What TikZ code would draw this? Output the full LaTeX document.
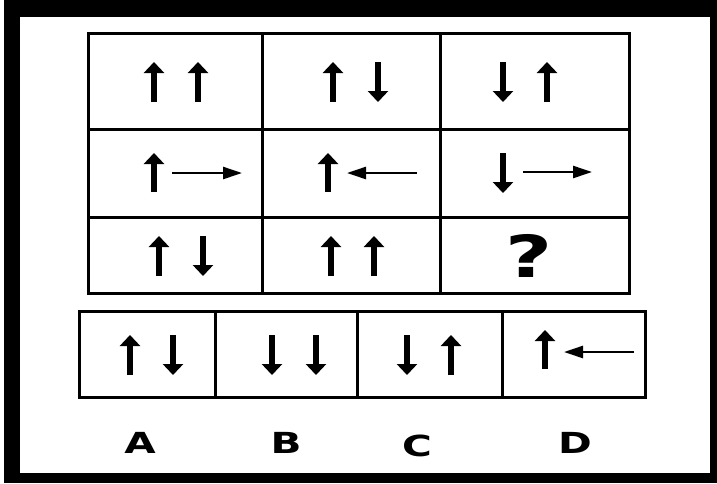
\documentclass[tikz,border=0pt]{standalone}
\usepackage{fontspec}
\setmainfont{DejaVu Sans}
\usetikzlibrary{arrows.meta}

\begin{document}
\begin{tikzpicture}[x=1pt, y=-1pt, line cap=butt, line join=miter,
    gridline/.style={line width=3pt},
    uparrow/.style={line width=5.5pt, -{Triangle[width=20pt, length=11pt]}},
    sidearrow/.style={line width=2.5pt, -{Triangle[width=12pt, length=19pt]}},
    optlabel/.style={font=\bfseries\fontsize{29}{29}\selectfont, xscale=1.4, transform shape}]

    \useasboundingbox (0,0) rectangle (717,483);

    % Marco negro exterior
    \fill[black] (4,0) rectangle (717,483);
    \fill[white] (20,17) rectangle (710,473);

    % Cuadrícula 3x3
    \draw[gridline] (88,33) rectangle (629,293);
    \draw[gridline] (262,33) -- (262,293);
    \draw[gridline] (440,33) -- (440,293);
    \draw[gridline] (88,129) -- (629,129);
    \draw[gridline] (88,217) -- (629,217);

    % Fila 1
    \draw[uparrow] (154,102) -- (154,62);
    \draw[uparrow] (198,102) -- (198,62);
    \draw[uparrow] (333,102) -- (333,62);
    \draw[uparrow] (378,62) -- (378,102);
    \draw[uparrow] (503,62) -- (503,102);
    \draw[uparrow] (547,102) -- (547,62);

    % Fila 2
    \draw[uparrow] (154,192) -- (154,153);
    \draw[sidearrow] (172,173) -- (242,173);
    \draw[uparrow] (328,192) -- (328,153);
    \draw[sidearrow] (417,173) -- (347,173);
    \draw[uparrow] (503,153) -- (503,193);
    \draw[sidearrow] (523,172) -- (592,172);

    % Fila 3
    \draw[uparrow] (159,276) -- (159,236);
    \draw[uparrow] (203,236) -- (203,276);
    \draw[uparrow] (331,276) -- (331,236);
    \draw[uparrow] (374,276) -- (374,236);
    \node[font=\bfseries\fontsize{58}{58}\selectfont, xscale=1.4, transform shape] (q) at (529,256) {?};

    % Opciones
    \draw[gridline] (79,311) rectangle (645,397);
    \draw[gridline] (215,311) -- (215,397);
    \draw[gridline] (357,311) -- (357,397);
    \draw[gridline] (502,311) -- (502,397);

    \draw[uparrow] (130,375) -- (130,335);
    \draw[uparrow] (173,335) -- (173,375);
    \draw[uparrow] (272,335) -- (272,375);
    \draw[uparrow] (316,335) -- (316,375);
    \draw[uparrow] (407,335) -- (407,375);
    \draw[uparrow] (451,375) -- (451,335);
    \draw[uparrow] (545,369) -- (545,330);
    \draw[sidearrow] (634,352) -- (564,352);

    % Etiquetas
    \node[optlabel] (labA) at (140,443) {A};
    \node[optlabel] (labB) at (286,443) {B};
    \node[optlabel] (labC) at (417,446) {C};
    \node[optlabel] (labD) at (575,443) {D};

\end{tikzpicture}
\end{document}
